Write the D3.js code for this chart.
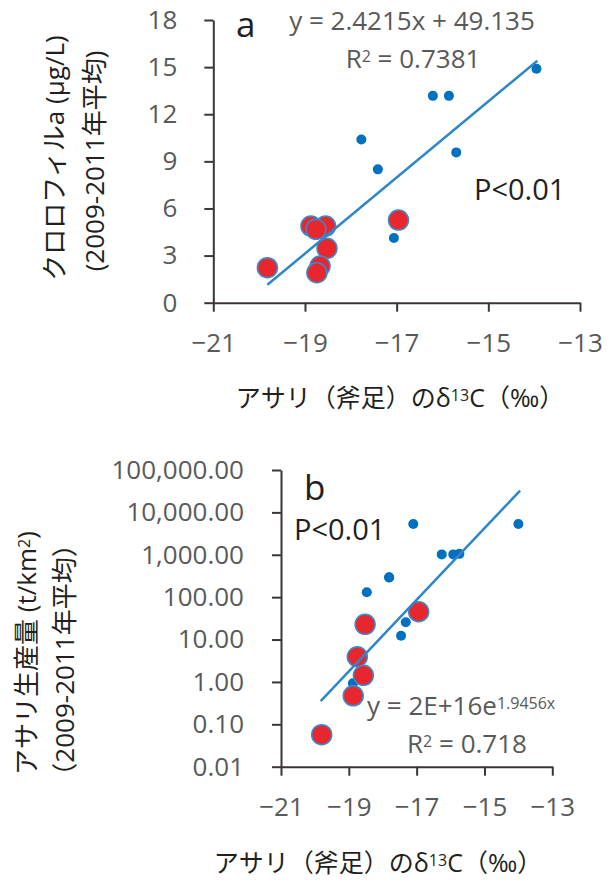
<!DOCTYPE html>
<html>
<head>
<meta charset="utf-8">
<script src="https://cdn.jsdelivr.net/npm/d3@7"></script>
<style>
  body { margin: 0; background: #fff; }
  text { font-family: "Open Sans", "Noto Sans CJK JP", sans-serif; }
</style>
</head>
<body>
<svg id="chart" width="609" height="881"></svg>
<script>
// panel a: chlorophyll a vs d13C
const aBlueX = [-13.95, -16.21, -15.86, -17.77, -17.41, -15.70, -17.06];
const aBlueY = [14.9, 13.17, 13.17, 10.39, 8.49, 9.57, 4.12];
const aRedX = [-19.82, -18.87, -18.55, -18.76, -18.52, -18.67, -18.74, -16.96];
const aRedY = [2.23, 4.88, 4.88, 4.67, 3.46, 2.33, 1.91, 5.26];
const aTicksY = [0, 3, 6, 9, 12, 15, 18];
const aTrend = [2.4215, 49.135]; // slope, intercept
const aTrendX = [-19.82, -13.93];

// panel b: clam production vs d13C (log)
const bBlueX = [-17.10, -14.0, -16.26, -15.92, -15.74, -17.81, -17.81, -18.47, -17.32, -17.46, -18.88];
const bBlueY = [5300, 5300, 1020, 1020, 1050, 293, 290, 130, 25.5, 12.3, 0.93];
const bRedX = [-19.80, -18.87, -18.57, -18.75, -18.52, -16.94];
const bRedY = [0.057, 0.47, 1.43, 3.93, 22.8, 45.3];
const bTicksY = [0.01, 0.1, 1, 10, 100, 1000, 10000, 100000];
const bTrend = [2e16, 1.9456]; // a * e^(b x)
const bTrendX = [-19.83, -13.95];

const xTicks = [-21, -19, -17, -15, -13];

const svg = d3.select('#chart');
const axisColor = '#3b3536';
const tickColor = '#595959';
const blue = '#0070c0';
const red = '#e8262e';
const lineBlue = '#2e86c8';

function styleAxis(g) {
    g.select('.domain').attr('stroke', axisColor).attr('stroke-width', 2);
    g.selectAll('.tick line').attr('stroke', axisColor).attr('stroke-width', 2);
    g.selectAll('.tick text').attr('fill', tickColor).style('font-size', '26px');
}

function drawPanel(o) {
    const x = d3.scaleLinear().domain([-21, -13]).range(o.xRange);
    const y = o.y;
    const g = svg.append('g');

    g.append('g')
        .attr('transform', `translate(0,${o.yRange[0]})`)
        .call(d3.axisBottom(x).tickValues(xTicks).tickSize(9).tickSizeOuter(0).tickPadding(22))
        .call(styleAxis);

    g.append('g')
        .attr('transform', `translate(${o.xRange[0]},0)`)
        .call(d3.axisLeft(y).tickValues(o.yTicks).tickFormat(o.yFormat).tickSize(9).tickSizeOuter(0).tickPadding(o.yPad))
        .call(styleAxis);

    // blue points
    g.selectAll('.blue')
        .data(o.blueX)
        .enter()
        .append('circle')
        .attr('cx', d => x(d))
        .attr('cy', (d, i) => y(o.blueY[i]))
        .attr('r', 5)
        .attr('fill', blue);

    // red points
    g.selectAll('.red')
        .data(o.redX)
        .enter()
        .append('circle')
        .attr('cx', d => x(d))
        .attr('cy', (d, i) => y(o.redY[i]))
        .attr('r', 10)
        .attr('fill', red)
        .attr('stroke', '#3a8ad0')
        .attr('stroke-width', 1.5);

    // trend line
    const pts = o.trendX.map(v => [x(v), y(o.trendFn(v))]);
    g.append('path')
        .attr('d', d3.line()(pts))
        .attr('stroke', lineBlue)
        .attr('stroke-width', 2.5)
        .attr('fill', 'none');

    // texts
    o.texts.forEach(t => {
        const el = g.append('text')
            .attr('x', t.x)
            .attr('y', t.y)
            .attr('fill', t.color)
            .attr('text-anchor', t.anchor || 'start')
            .style('font-size', t.size + 'px');
        if (t.rotate) el.attr('transform', `rotate(-90,${t.x},${t.y})`);
        t.parts.forEach(p => {
            const s = el.append('tspan').text(p.s);
            if (p.sup) s.attr('baseline-shift', '35%').style('font-size', Math.round(t.size * 0.62) + 'px');
        });
    });
}

drawPanel({
    xRange: [213.3, 580],
    yRange: [302.7, 20],
    y: d3.scaleLinear().domain([0, 18]).range([302.7, 20]),
    yTicks: aTicksY,
    yFormat: d3.format('d'),
    yPad: 27,
    blueX: aBlueX, blueY: aBlueY, redX: aRedX, redY: aRedY,
    trendX: aTrendX,
    trendFn: v => aTrend[0] * v + aTrend[1],
    texts: [
        {x: 236, y: 37, size: 35, color: '#231f20', parts: [{s: 'a'}]},
        {x: 412, y: 30, size: 26, color: tickColor, anchor: 'middle', parts: [{s: 'y = 2.4215x + 49.135'}]},
        {x: 413, y: 68, size: 26, color: tickColor, anchor: 'middle', parts: [{s: 'R'}, {s: '2', sup: true}, {s: ' = 0.7381'}]},
        {x: 474, y: 200, size: 29, color: '#231f20', parts: [{s: 'P<0.01'}]},
        {x: 400, y: 407, size: 25, color: '#231f20', anchor: 'middle', parts: [{s: 'アサリ（斧足）のδ'}, {s: '13', sup: true}, {s: 'C（‰）'}]},
        {x: 64, y: 158, size: 26, color: '#231f20', anchor: 'middle', rotate: true, parts: [{s: 'クロロフィルa (µg/L)'}]},
        {x: 104, y: 161, size: 26, color: '#231f20', anchor: 'middle', rotate: true, parts: [{s: '(2009-2011年平均)'}]}
    ]
});

drawPanel({
    xRange: [281, 552.3],
    yRange: [766.7, 470],
    y: d3.scaleLog().domain([0.01, 100000]).range([766.7, 470]),
    yTicks: bTicksY,
    yFormat: d3.format(',.2f'),
    yPad: 28,
    blueX: bBlueX, blueY: bBlueY, redX: bRedX, redY: bRedY,
    trendX: bTrendX,
    trendFn: v => bTrend[0] * Math.exp(bTrend[1] * v),
    texts: [
        {x: 304, y: 500, size: 35, color: '#231f20', parts: [{s: 'b'}]},
        {x: 294, y: 540, size: 29, color: '#231f20', parts: [{s: 'P<0.01'}]},
        {x: 367, y: 715, size: 26, color: tickColor, parts: [{s: 'y = 2E+16e'}, {s: '1.9456x', sup: true}]},
        {x: 467, y: 753, size: 26, color: tickColor, anchor: 'middle', parts: [{s: 'R'}, {s: '2', sup: true}, {s: ' = 0.718'}]},
        {x: 378, y: 872, size: 25, color: '#231f20', anchor: 'middle', parts: [{s: 'アサリ（斧足）のδ'}, {s: '13', sup: true}, {s: 'C（‰）'}]},
        {x: 36, y: 653, size: 26, color: '#231f20', anchor: 'middle', rotate: true, parts: [{s: 'アサリ生産量 (t/km'}, {s: '2', sup: true}, {s: ')'}]},
        {x: 74, y: 660, size: 26, color: '#231f20', anchor: 'middle', rotate: true, parts: [{s: '（2009-2011年平均）'}]}
    ]
});
</script>
</body>
</html>
